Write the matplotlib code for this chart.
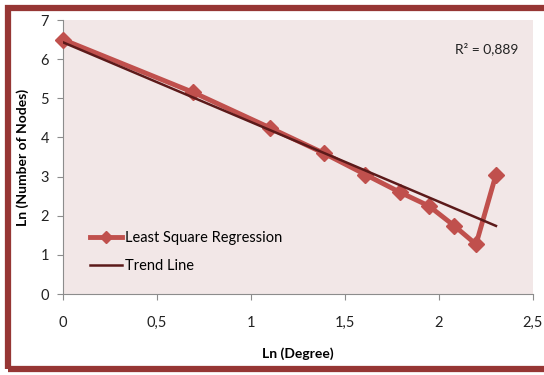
import matplotlib.pyplot as plt
from matplotlib.patches import Rectangle
from matplotlib.ticker import FuncFormatter

# Ln(Degree) vs Ln(Number of Nodes)
ln_degree = [0.0, 0.693, 1.099, 1.386, 1.609, 1.792, 1.946, 2.079, 2.197, 2.303]
ln_nodes = [6.5, 5.15, 4.25, 3.6, 3.05, 2.6, 2.25, 1.75, 1.27, 3.05]

# trend line end points
trend_x = [0.0, 2.303]
trend_y = [6.43, 1.74]

x_ticks = [0, 0.5, 1, 1.5, 2, 2.5]
y_ticks = [0, 1, 2, 3, 4, 5, 6, 7]

plt.rcParams['font.family'] = ['Lato', 'DejaVu Sans']

fig = plt.figure(figsize=(5.44, 3.75), dpi=100)
ax = fig.add_axes([63 / 544, 81 / 375, 470 / 544, 274 / 375])
ax.set_facecolor('#F2E7E7')

ax.plot(ln_degree, ln_nodes, color='#C0504D', linewidth=3.5, marker='D',
        markersize=8, label='Least Square Regression', zorder=3, clip_on=False)
ax.plot(trend_x, trend_y, color='#5C1A1A', linewidth=1.8, label='Trend Line', zorder=4)

ax.set_xlim(0, 2.5)
ax.set_ylim(0, 7)
ax.set_xticks(x_ticks)
ax.set_yticks(y_ticks)
ax.xaxis.set_major_formatter(FuncFormatter(lambda v, p: ('%g' % v).replace('.', ',')))

for side in ['top', 'right']:
    ax.spines[side].set_visible(False)
for side in ['left', 'bottom']:
    ax.spines[side].set_color('#8C8C8C')
ax.tick_params(axis='both', direction='out', color='#8C8C8C', length=4, labelsize=10.5,
               labelcolor='#222222')
ax.tick_params(axis='x', pad=12)
ax.tick_params(axis='y', pad=6)

ax.set_xlabel('Ln (Degree)', fontsize=10, fontweight='bold', labelpad=12)
ax.set_ylabel('Ln (Number of Nodes)', fontsize=10, fontweight='bold', labelpad=8)

ax.text(0.835, 0.88, 'R² = 0,889', transform=ax.transAxes, fontsize=10, color='#222222')

ax.legend(loc='lower left', bbox_to_anchor=(0.03, 0.03), frameon=False, fontsize=10.5,
          handlelength=2.2, handletextpad=0.2, labelspacing=0.95, markerscale=0.8)

# dark red frame around the picture
fig.patches.append(Rectangle((8 / 544, 6 / 375), 1.05, 361 / 375, transform=fig.transFigure,
                             fill=False, edgecolor='#963634', linewidth=4.5, clip_on=False))

fig.savefig('out.png', dpi=100)
